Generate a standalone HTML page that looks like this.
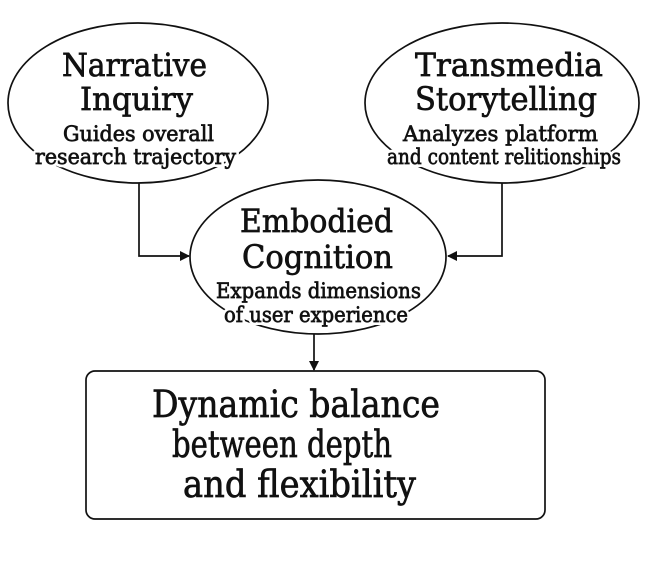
<!DOCTYPE html>
<html><head><meta charset="utf-8"><style>
html,body{margin:0;padding:0;background:#fff;}
svg{display:block;}
text{font-family:"DejaVu Serif","Liberation Serif",serif;fill:#111;text-anchor:start;}
.w text{stroke:#fff;stroke-width:6px;stroke-linejoin:round;fill:#fff;}
.t text{stroke:#111;stroke-width:0.7px;}
</style></head><body>
<svg width="652" height="562" viewBox="0 0 652 562" xmlns="http://www.w3.org/2000/svg">
<defs><marker id="a" markerWidth="10" markerHeight="10" refX="9" refY="5" orient="auto" markerUnits="userSpaceOnUse"><path d="M0,0 L10,5 L0,10 z" fill="#111"/></marker></defs>
<g fill="none" stroke="#111" stroke-width="1.7">
<ellipse cx="138" cy="103" rx="130" ry="80"/>
<ellipse cx="502" cy="103" rx="137" ry="80"/>
<ellipse cx="318" cy="257" rx="128" ry="77"/>
<path d="M139,183 V256 H189" marker-end="url(#a)"/>
<path d="M502,183 V256 H448" marker-end="url(#a)"/>
<path d="M314,334 V370" marker-end="url(#a)"/>
<rect x="86" y="371" width="459" height="148" rx="9"/>
</g>
<g class="w">
<text x="62" y="76" font-size="32" textLength="145" lengthAdjust="spacingAndGlyphs">Narrative</text>
<text x="80" y="110" font-size="32" textLength="113" lengthAdjust="spacingAndGlyphs">Inquiry</text>
<text x="63" y="141" font-size="21" textLength="151" lengthAdjust="spacingAndGlyphs">Guides overall</text>
<text x="35" y="164" font-size="21" textLength="201" lengthAdjust="spacingAndGlyphs">research trajectory</text>
<text x="415" y="76" font-size="32" textLength="188" lengthAdjust="spacingAndGlyphs">Transmedia</text>
<text x="415" y="110" font-size="32" textLength="182" lengthAdjust="spacingAndGlyphs">Storytelling</text>
<text x="403" y="141" font-size="21" textLength="195" lengthAdjust="spacingAndGlyphs">Analyzes platform</text>
<text x="387" y="164" font-size="21" textLength="234" lengthAdjust="spacingAndGlyphs">and content relitionships</text>
<text x="240" y="232" font-size="32" textLength="153" lengthAdjust="spacingAndGlyphs">Embodied</text>
<text x="242" y="268" font-size="32" textLength="151" lengthAdjust="spacingAndGlyphs">Cognition</text>
<text x="216" y="298" font-size="21" textLength="205" lengthAdjust="spacingAndGlyphs">Expands dimensions</text>
<text x="224" y="322" font-size="21" textLength="184" lengthAdjust="spacingAndGlyphs">of user experience</text>
</g>
<g class="t">
<text x="62" y="76" font-size="32" textLength="145" lengthAdjust="spacingAndGlyphs">Narrative</text>
<text x="80" y="110" font-size="32" textLength="113" lengthAdjust="spacingAndGlyphs">Inquiry</text>
<text x="63" y="141" font-size="21" textLength="151" lengthAdjust="spacingAndGlyphs">Guides overall</text>
<text x="35" y="164" font-size="21" textLength="201" lengthAdjust="spacingAndGlyphs">research trajectory</text>
<text x="415" y="76" font-size="32" textLength="188" lengthAdjust="spacingAndGlyphs">Transmedia</text>
<text x="415" y="110" font-size="32" textLength="182" lengthAdjust="spacingAndGlyphs">Storytelling</text>
<text x="403" y="141" font-size="21" textLength="195" lengthAdjust="spacingAndGlyphs">Analyzes platform</text>
<text x="387" y="164" font-size="21" textLength="234" lengthAdjust="spacingAndGlyphs">and content relitionships</text>
<text x="240" y="232" font-size="32" textLength="153" lengthAdjust="spacingAndGlyphs">Embodied</text>
<text x="242" y="268" font-size="32" textLength="151" lengthAdjust="spacingAndGlyphs">Cognition</text>
<text x="216" y="298" font-size="21" textLength="205" lengthAdjust="spacingAndGlyphs">Expands dimensions</text>
<text x="224" y="322" font-size="21" textLength="184" lengthAdjust="spacingAndGlyphs">of user experience</text>
<text x="152" y="417" font-size="37" textLength="288" lengthAdjust="spacingAndGlyphs">Dynamic balance</text>
<text x="172" y="457" font-size="37" textLength="220" lengthAdjust="spacingAndGlyphs">between depth</text>
<text x="183" y="497" font-size="37" textLength="233" lengthAdjust="spacingAndGlyphs">and flexibility</text>
</g>
</svg>
</body></html>
